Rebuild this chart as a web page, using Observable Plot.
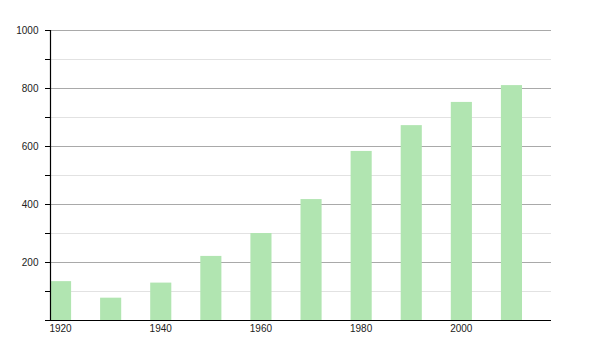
<!DOCTYPE html>
<html>
<head>
<meta charset="utf-8">
<script src="https://cdn.jsdelivr.net/npm/d3@7"></script>
<script src="https://cdn.jsdelivr.net/npm/@observablehq/plot@0.6"></script>
<style>
  html, body { margin: 0; padding: 0; background: #fff; }
</style>
</head>
<body>
<div id="chart"></div>
<script>
const years = [1920, 1930, 1940, 1950, 1960, 1970, 1980, 1990, 2000, 2010];
const values = [134, 77, 129, 221, 300, 417, 583, 672, 752, 810];
const majorTicks = [200, 400, 600, 800, 1000];
const minorTicks = [100, 300, 500, 700, 900];
const xTickYears = [1920, 1940, 1960, 1980, 2000];

const data = years.map((year, i) => ({year, value: values[i]}));

const chart = Plot.plot({
  width: 600,
  height: 350,
  marginLeft: 50,
  marginRight: 49,
  marginTop: 30,
  marginBottom: 30,
  style: {fontFamily: "'Liberation Sans', Arial, sans-serif", fontSize: "10px", color: "#222", background: "#fff"},
  x: {type: "linear", domain: [1920, 2020], label: null},
  y: {domain: [0, 1000], label: null},
  marks: [
    Plot.ruleY(minorTicks, {stroke: "#e2e2e2", strokeWidth: 1}),
    Plot.ruleY(majorTicks, {stroke: "#a9a9a9", strokeWidth: 1}),
    Plot.rectY(data, {x1: "year", x2: d => d.year + 10, y: "value", insetRight: 29, fill: "#b1e5b1"}),
    Plot.axisY({ticks: d3.range(0, 1001, 100), tickSize: 5, tickPadding: 7, label: null,
      tickFormat: d => (d % 200 === 0 && d > 0) ? String(d) : "", stroke: "#000"}),
    Plot.axisX({ticks: xTickYears, tickSize: 0, tickPadding: 4, dx: 10, label: null, tickFormat: d => String(d)}),
    Plot.ruleX([1920], {y1: 0, y2: 1000, stroke: "#000", strokeWidth: 1.2}),
    Plot.ruleY([0], {stroke: "#000", strokeWidth: 1.2})
  ]
});
document.getElementById("chart").appendChild(chart);
</script>
</body>
</html>
